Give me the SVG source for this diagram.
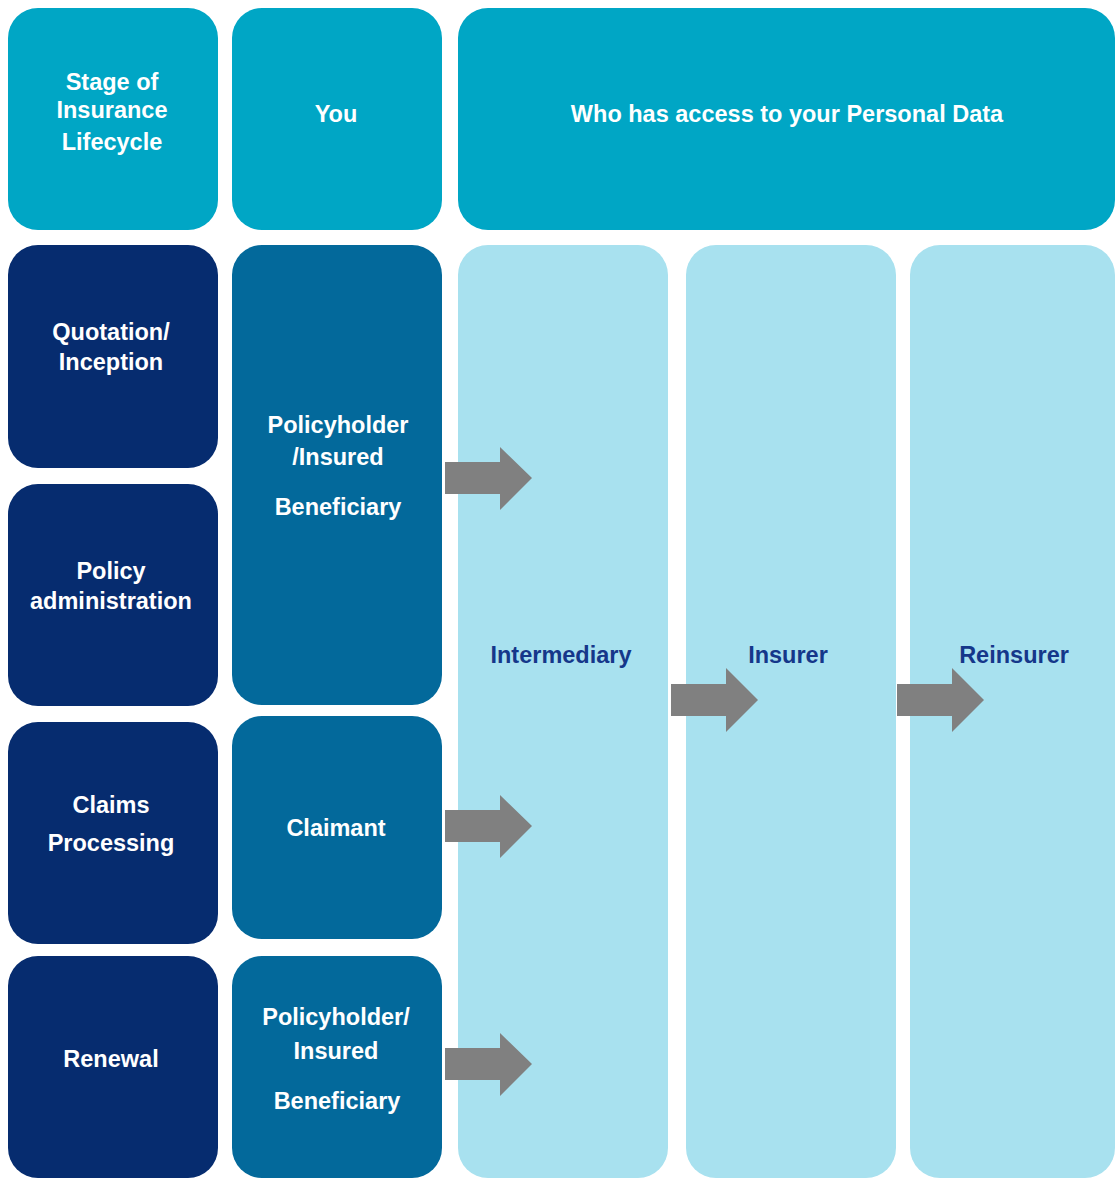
<svg xmlns="http://www.w3.org/2000/svg" width="1116" height="1178" viewBox="0 0 1116 1178">
<style>
.hdr{fill:#00a6c5}
.stage{fill:#062c6f}
.you{fill:#03699b}
.party{fill:#a8e1ef}
.arrow{fill:#808080}
text{font-family:"Liberation Sans",Arial,sans-serif;font-weight:bold;font-size:23.5px;text-anchor:middle}
.w{fill:#ffffff}
.d{fill:#15378a}
</style>
<rect width="1116" height="1178" fill="#ffffff"/>
<g id="hdr-stage"><rect class="hdr" x="8" y="8" width="210" height="222" rx="30"/>
<text class="w" x="112" y="90">Stage of</text><text class="w" x="112" y="118">Insurance</text><text class="w" x="112" y="150">Lifecycle</text></g>
<g id="hdr-you"><rect class="hdr" x="232" y="8" width="210" height="222" rx="30"/>
<text class="w" x="336" y="122">You</text></g>
<g id="hdr-access"><rect class="hdr" x="458" y="8" width="657" height="222" rx="30"/>
<text class="w" x="787" y="122">Who has access to your Personal Data</text></g>

<g id="party-intermediary"><rect class="party" x="458" y="245" width="210" height="933" rx="30"/>
<text class="d" x="561" y="663">Intermediary</text></g>
<g id="party-insurer"><rect class="party" x="686" y="245" width="210" height="933" rx="30"/>
<text class="d" x="788" y="663">Insurer</text></g>
<g id="party-reinsurer"><rect class="party" x="910" y="245" width="205" height="933" rx="30"/>
<text class="d" x="1014" y="663">Reinsurer</text></g>

<g id="stage-quotation"><rect class="stage" x="8" y="245" width="210" height="223" rx="30"/>
<text class="w" x="111" y="340">Quotation/</text><text class="w" x="111" y="370">Inception</text></g>
<g id="stage-admin"><rect class="stage" x="8" y="484" width="210" height="222" rx="30"/>
<text class="w" x="111" y="579">Policy</text><text class="w" x="111" y="609">administration</text></g>
<g id="stage-claims"><rect class="stage" x="8" y="722" width="210" height="222" rx="30"/>
<text class="w" x="111" y="813">Claims</text><text class="w" x="111" y="851">Processing</text></g>
<g id="stage-renewal"><rect class="stage" x="8" y="956" width="210" height="222" rx="30"/>
<text class="w" x="111" y="1067">Renewal</text></g>

<g id="you-policyholder"><rect class="you" x="232" y="245" width="210" height="460" rx="30"/>
<text class="w" x="338" y="433">Policyholder</text><text class="w" x="338" y="465">/Insured</text><text class="w" x="338" y="515">Beneficiary</text></g>
<g id="you-claimant"><rect class="you" x="232" y="716" width="210" height="223" rx="30"/>
<text class="w" x="336" y="836">Claimant</text></g>
<g id="you-renewal"><rect class="you" x="232" y="956" width="210" height="222" rx="30"/>
<text class="w" x="336" y="1025">Policyholder/</text><text class="w" x="336" y="1059">Insured</text><text class="w" x="337" y="1109">Beneficiary</text></g>

<g id="connectors">
<polygon class="arrow" points="445,462 500,462 500,447 532,478 500,510 500,494 445,494"/>
<polygon class="arrow" points="445,810 500,810 500,795 532,826 500,858 500,842 445,842"/>
<polygon class="arrow" points="445,1048 500,1048 500,1033 532,1064 500,1096 500,1080 445,1080"/>
<polygon class="arrow" points="671,684 726,684 726,668 758,700 726,732 726,716 671,716"/>
<polygon class="arrow" points="897,684 952,684 952,668 984,700 952,732 952,716 897,716"/>
</g>
</svg>
